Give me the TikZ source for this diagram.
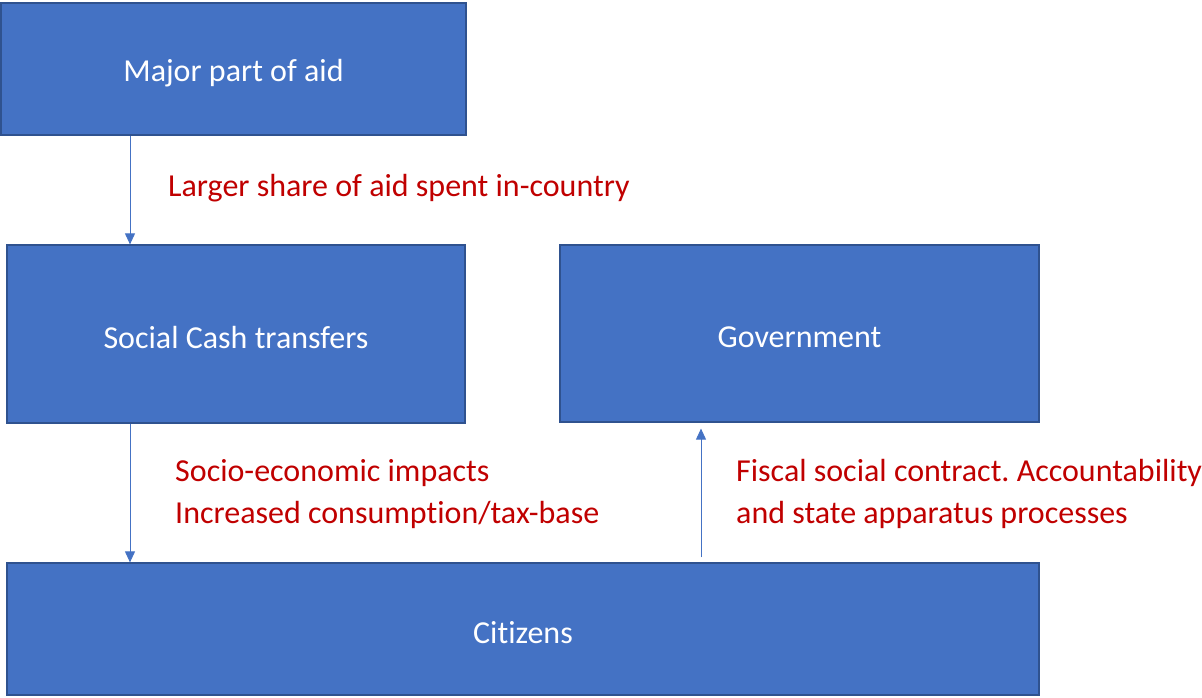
\documentclass[tikz,border=0pt]{standalone}
\usepackage{fontspec}
\setmainfont{Carlito}[Ligatures={NoCommon,NoRare}]
\usetikzlibrary{arrows.meta}
\definecolor{boxfill}{HTML}{4472C4}
\definecolor{boxline}{HTML}{2F528F}
\definecolor{notered}{HTML}{C00000}
% box label set a little below the optical centre, keeping its nominal size
\newcommand{\boxlabel}[1]{\raisebox{-4pt}[\height][\depth]{#1}}
\begin{document}
\frenchspacing
\begin{tikzpicture}[x=1pt,y=-1pt,
  box/.style={draw=boxline,line width=1.2pt,fill=boxfill,text=white,
    font=\fontsize{32}{38}\selectfont,inner sep=0pt},
  note/.style={text=notered,anchor=west,align=left,inner sep=0pt,
    font=\fontsize{32}{42}\selectfont},
  conn/.style={draw=boxfill,line width=0.9pt,
    -{Triangle[length=11pt,width=10pt]}}]
\useasboundingbox (0,0) rectangle (1202,698);
% boxes
\node[box,minimum width=465,minimum height=132] (aid) at (233.5,69) {\boxlabel{Major part of aid}};
\node[box,minimum width=458,minimum height=178] (sct) at (236,334) {\boxlabel{Social Cash transfers}};
\node[box,minimum width=479,minimum height=177] (gov) at (799.5,333.5) {\boxlabel{Government}};
\node[box,minimum width=1032,minimum height=132] (cit) at (523,629) {\boxlabel{Citizens}};
% connectors
\draw[conn] (aid.south -| 130,0) -- (sct.north -| 130,0);
\draw[conn] (sct.south -| 130,0) -- (cit.north -| 130,0);
\draw[conn,shorten <=5pt,shorten >=6pt] (cit.north -| 701,0) -- (gov.south -| 701,0);
% annotations
\node[note] (n1) at (168,188) {Larger share of aid spent in-country};
\node[note] (n2) at (175,494) {Socio-economic impacts\\Increased consumption/tax-base};
\node[note] (n3) at (736,494) {Fiscal social contract. Accountability\\and state apparatus processes};
\end{tikzpicture}
\end{document}
